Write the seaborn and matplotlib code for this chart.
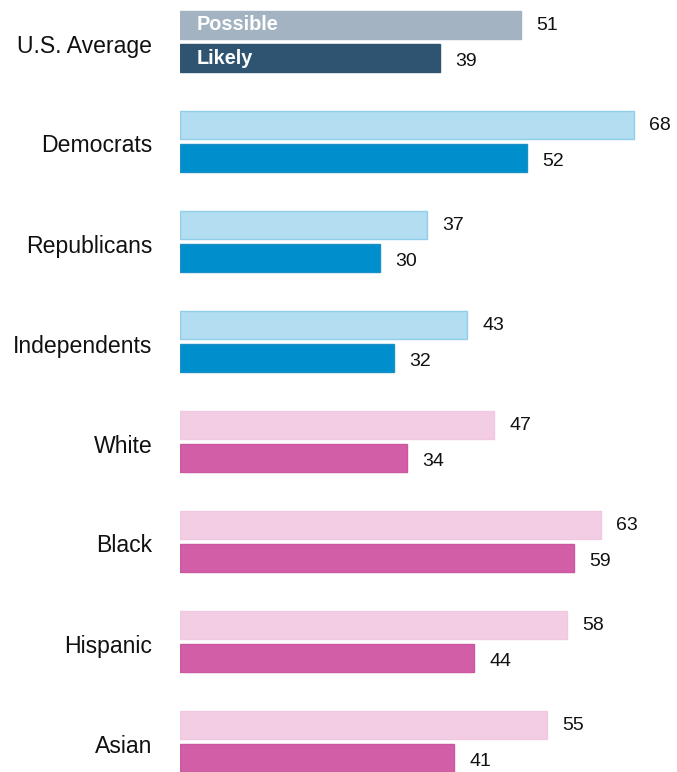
import numpy as np
import pandas as pd
import seaborn as sns
import matplotlib.pyplot as plt
import matplotlib.transforms as mtransforms

categories = ['U.S. Average', 'Democrats', 'Republicans', 'Independents',
              'White', 'Black', 'Hispanic', 'Asian']
possible = [51, 68, 37, 43, 47, 63, 58, 55]
likely = [39, 52, 30, 32, 34, 59, 44, 41]
measures = ['Possible', 'Likely']

# colours per group: (possible, likely)
light_cols = ['#a3b3c1'] + ['#b3ddf0'] * 3 + ['#f2cde3'] * 4
dark_cols = ['#2e5472'] + ['#008fcd'] * 3 + ['#d15ea6'] * 4
light_edges = ['#a3b3c1'] + ['#8fcfec'] * 3 + ['#f0c8df'] * 4
dark_edges = ['#2e5472'] + ['#1b8fc6'] * 3 + ['#c9589f'] * 4

df = pd.DataFrame({
    'group': categories * 2,
    'value': possible + likely,
    'measure': ['Possible'] * len(categories) + ['Likely'] * len(categories),
})

sns.set_style('white')
plt.rcParams['font.family'] = ['Liberation Sans', 'DejaVu Sans']

fig = plt.figure(figsize=(6.77, 7.72), dpi=100)
ax = fig.add_axes([180 / 677, 0, 497 / 677, 1])

sns.barplot(data=df, y='group', x='value', hue='measure', hue_order=measures,
            order=categories, orient='h', width=0.66, gap=0.15,
            legend=False, ax=ax)

for i, bar in enumerate(ax.containers[0]):
    bar.set_facecolor(light_cols[i])
    bar.set_edgecolor(light_edges[i])
    bar.set_linewidth(1)
for i, bar in enumerate(ax.containers[1]):
    bar.set_facecolor(dark_cols[i])
    bar.set_edgecolor(dark_edges[i])
    bar.set_linewidth(1)

# value labels; the "likely" ones sit a little lower
for t in ax.bar_label(ax.containers[0], padding=11, fontsize=14, color='#111111'):
    t.xyann = (t.xyann[0], -0.7)
for t in ax.bar_label(ax.containers[1], padding=11, fontsize=14, color='#111111'):
    t.xyann = (t.xyann[0], -2.6)

# labels inside U.S. Average bars
for cont, name in zip(ax.containers, measures):
    b = cont[0]
    ax.text(2.5, b.get_y() + b.get_height() / 2, name, color='white',
            fontsize=14.3, fontweight='bold', va='center', ha='left')

scale = (634 - 180) / 68
ax.set_xlim(0, 497 / scale)
ax.set_ylim(7.305, -0.415)

ax.set_xlabel('')
ax.set_ylabel('')
ax.set_xticks([])
ax.tick_params(axis='y', length=0, pad=20, labelsize=16.6, labelcolor='#111111')
shift = mtransforms.ScaledTranslation(0, -2 / 100, fig.dpi_scale_trans)
for lab in ax.get_yticklabels():
    lab.set_transform(lab.get_transform() + shift)
sns.despine(ax=ax, left=True, bottom=True)

fig.savefig('out.png', dpi=100)
